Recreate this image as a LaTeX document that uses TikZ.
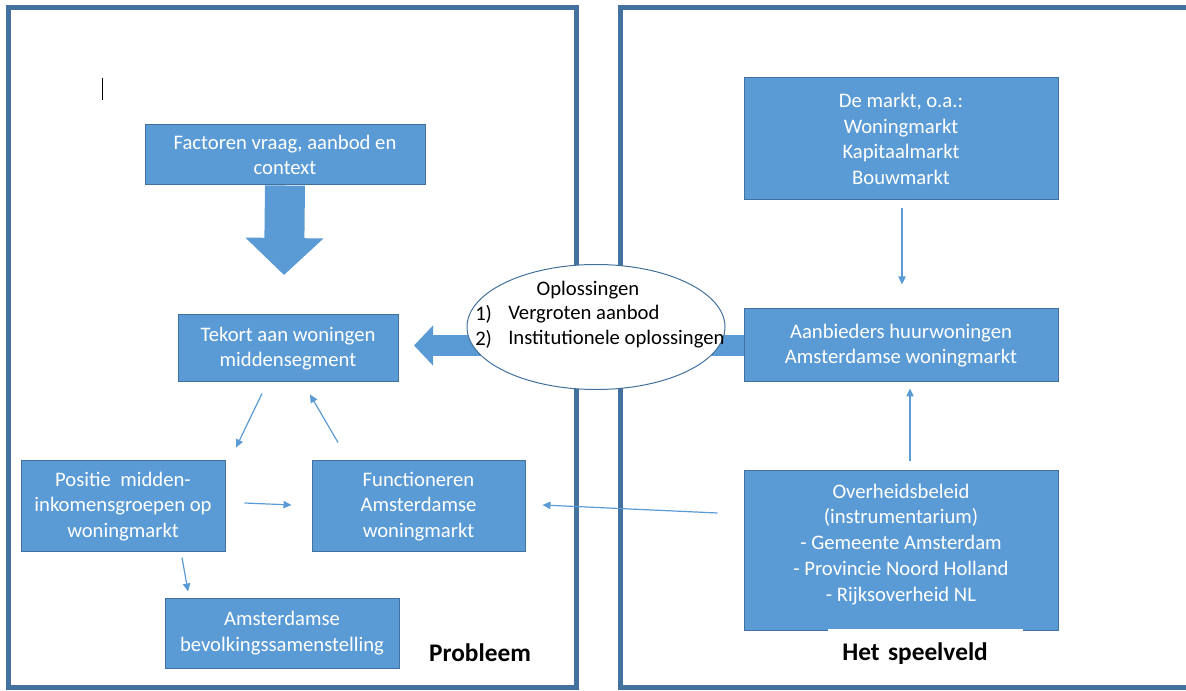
\documentclass[tikz,border=0pt]{standalone}
\usepackage{fontspec}
\setmainfont{Carlito}
\usetikzlibrary{shapes.geometric,arrows.meta,calc}

\definecolor{vakblauw}{RGB}{91,155,213}
\definecolor{randblauw}{RGB}{65,113,156}
\definecolor{kaderblauw}{RGB}{68,114,158}

\tikzset{
  vak/.style={draw=randblauw, line width=0.75pt, fill=vakblauw, text=white, align=center, inner sep=0pt, font=\fontsize{15.5}{19.3}\selectfont},
  pijltje/.style={draw=vakblauw, line width=0.9pt, -{Triangle[length=6pt,width=5.5pt]}},
  kader/.style={draw=kaderblauw, line width=3.75pt},
  tekst/.style={inner sep=0pt, font=\fontsize{15.5}{19.3}\selectfont},
  kop/.style={inner sep=0pt, font=\fontsize{19}{22}\selectfont\bfseries}
}

\begin{document}
\begin{tikzpicture}[x=0.75pt,y=0.75pt,yscale=-1,xscale=1]
\useasboundingbox (0,0) rectangle (1186,691);
\clip (0,0) rectangle (1186,691);

%Shape: Rectangle [probleem]
\draw [kader] (8,8) rectangle (576,687);
%Shape: Rectangle [speelveld]
\draw [kader] (620,8) rectangle (1200,687);
%Straight Lines [cursor]
\draw [line width=0.75pt] (102,78) -- (102,100);

% Text Node
\node [vak, minimum width=210pt, minimum height=45pt] (factoren) at (285,155) {Factoren vraag, aanbod en\\context};
% Text Node
\node [vak, minimum width=165pt, minimum height=50.25pt] (tekort) at (288,348.5) {Tekort aan woningen\\middensegment};
% Text Node
\node [vak, minimum width=153pt, minimum height=68.25pt] (positie) at (123,506.5) {Positie\ \ midden-\\inkomensgroepen op\\woningmarkt};
% Text Node
\node [vak, minimum width=159.75pt, minimum height=68.25pt] (functie) at (418.5,506.5) {Functioneren\\Amsterdamse\\woningmarkt};
% Text Node
\node [vak, minimum width=175.5pt, minimum height=52.5pt] (bevolking) at (282,633) {Amsterdamse\\bevolkingssamenstelling};
% Text Node
\node [vak, minimum width=235.5pt, minimum height=91.5pt] (markt) at (901,139) {De markt, o.a.:\\Woningmarkt\\Kapitaalmarkt\\Bouwmarkt};
% Text Node
\node [vak, minimum width=235.5pt, minimum height=54.75pt] (aanbieders) at (901,345.5) {Aanbieders huurwoningen\\Amsterdamse woningmarkt};
% Text Node
\node [vak, minimum width=235.5pt, minimum height=119.25pt] (overheid) at (901,550.5) {Overheidsbeleid\\(instrumentarium)\\- Gemeente Amsterdam\\- Provincie Noord Holland\\- Rijksoverheid NL\\[-7.3pt]};

%Block Arrows
\coordinate (neer) at (284,275);
\draw [draw=vakblauw, line width=30pt, -{Triangle[length=27.75pt,width=57pt]}] (factoren.south) -- (neer);
\coordinate (links) at (414,345);
\draw [draw=vakblauw, line width=15.75pt, -{Triangle[length=14.25pt,width=29.25pt]}] (aanbieders.west) -- (links |- aanbieders.west);

%Shape: Ellipse [oplossingen]
\node [ellipse, draw=randblauw, line width=0.75pt, fill=white, minimum width=193.5pt, minimum height=93.75pt, inner sep=0pt] (oplos) at (596,327) {};
\node [tekst] (kopopl) at (588,290) {Oplossingen};
\node [tekst, anchor=west] (nr1) at (475,314) {1)};
\node [tekst, anchor=west] (opl1) at (508,314) {Vergroten aanbod};
\node [tekst, anchor=west] (nr2) at (475,339) {2)};
\node [tekst, anchor=west] (opl2) at (508,339) {Institutionele oplossingen};

%Straight Lines
\draw [pijltje] ($(tekort.south)+(-26,11)$) -- ($(positie.north)+(113,-13)$);
\draw [pijltje] ($(functie.north)+(-80.5,-18)$) -- ($(tekort.south)+(22,12)$);
\draw [pijltje] ($(positie.east)+(19,-3.5)$) -- ($(functie.west)+(-20,-1.5)$);
\draw [pijltje] ($(positie.south)+(59,5)$) -- ($(bevolking.north)+(-94,-6)$);
\draw [pijltje] ($(overheid.west)+(-26,-37.5)$) -- ($(functie.east)+(17,-1.5)$);
\draw [pijltje] ($(markt.south)+(1,8)$) -- ($(aanbieders.north)+(1,-24)$);
\draw [pijltje] ($(overheid.north)+(9,-9)$) -- ($(aanbieders.south)+(9,6)$);

% Text Node
\node [kop] (probleem) at (480,653) {Probleem};
% Text Node
\node [kop, anchor=north west, fill=white, text width=125.25pt, inner xsep=10.5pt, minimum height=37pt, align=left] (speelveld) at (828,629) {Het speelveld};

\end{tikzpicture}
\end{document}
